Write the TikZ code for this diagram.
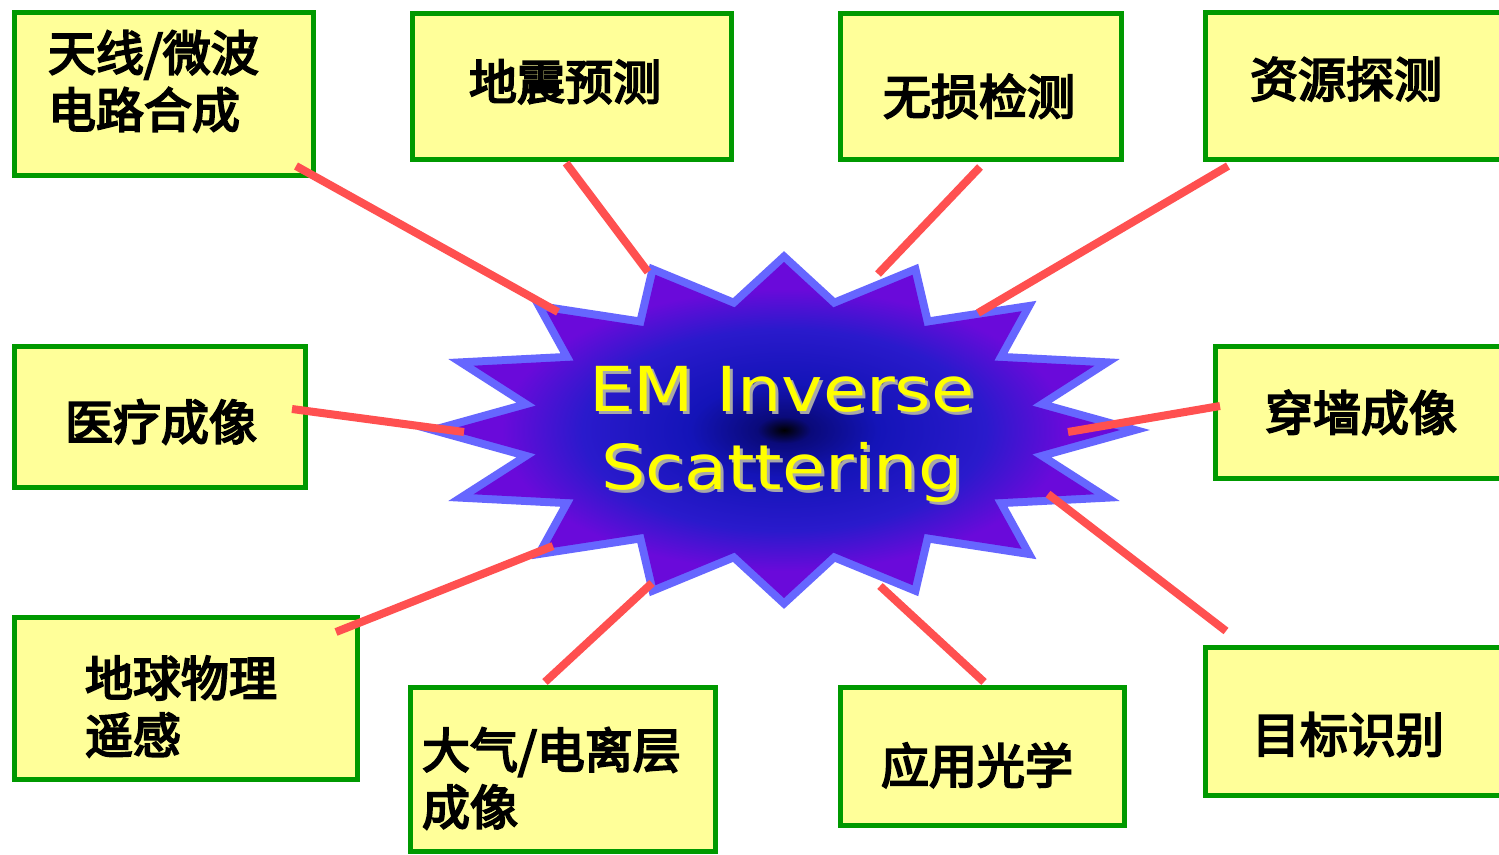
\documentclass[tikz,border=0pt]{standalone}
\usepackage{fontspec}
\usepackage{graphicx}
\newfontfamily\cjk{Noto Sans CJK SC}[FakeBold=4]
\newfontfamily\emfont{DejaVu Sans}
\definecolor{boxyellow}{HTML}{FFFF99}
\definecolor{boxgreen}{HTML}{009900}
\definecolor{linered}{HTML}{FF5050}
\definecolor{starborder}{HTML}{6666FF}
\definecolor{shA}{HTML}{000000}
\definecolor{shB}{HTML}{0A0A7A}
\definecolor{shC}{HTML}{1414B8}
\definecolor{shD}{HTML}{2A1ACC}
\definecolor{shE}{HTML}{6A0ADA}
\definecolor{emyellow}{HTML}{FFFF00}
\definecolor{emgray}{HTML}{A8A8A8}
\pgfdeclareradialshading{starshade}{\pgfpoint{0bp}{0bp}}{color(0bp)=(shA); color(2bp)=(shB); color(7bp)=(shC); color(15bp)=(shD); color(21bp)=(shE); color(50bp)=(shE)}
% vertical nudges of box text: a strut on the first line (down) or last line (up)
\newcommand{\tdn}[1]{\rule{0pt}{\dimexpr 0.88em+#1pt*2\relax}}
\newcommand{\tupp}[1]{\rule[-\dimexpr 0.12em+#1pt*2\relax]{0pt}{\dimexpr 0.12em+#1pt*2\relax}}
\begin{document}
\begin{tikzpicture}[x=1pt,y=-1pt,
  box/.style={draw=boxgreen, fill=boxyellow, line width=5pt, anchor=north west, inner sep=0pt, outer sep=0pt, align=left,
    font=\cjk\fontsize{48pt}{57pt}\selectfont},
  conn/.style={draw=linered, line width=8pt},
  emtxt/.style={font=\emfont\fontsize{62pt}{78pt}\selectfont, align=center, inner sep=0pt},
  starpath/.style={line width=16pt, draw=starborder, miter limit=10}]
\useasboundingbox[fill=white] (0,0) rectangle (1499,854);

% boxes
\node[box, minimum width=299pt, minimum height=163pt, text width=232pt] (b1) at (14.5,12.5) {天线/微波\\电路合成\tupp{12}};
\node[box, minimum width=319pt, minimum height=146pt, text width=206pt] (b2) at (412.5,13.5) {地震预测\tupp{4}};
\node[box, minimum width=281pt, minimum height=146pt, text width=196pt] (b3) at (840.5,13.5) {\tdn{9}无损检测};
\node[box, minimum width=320pt, minimum height=147pt, text width=231pt] (b4) at (1205.5,12.5) {资源探测\tupp{6}};
\node[box, minimum width=291pt, minimum height=141pt, text width=190pt] (b5) at (14.5,346.5) {\tdn{4}医疗成像};
\node[box, minimum width=320pt, minimum height=132pt, text width=221pt] (b6) at (1215.5,346.5) {穿墙成像};
\node[box, minimum width=343pt, minimum height=162pt, text width=202pt] (b7) at (14.5,617.5) {\tdn{7}地球物理\\遥感};
\node[box, minimum width=305pt, minimum height=164pt, text width=282pt] (b8) at (410.5,687.5) {\tdn{8}大气/电离层\\成像};
\node[box, minimum width=284pt, minimum height=138pt, text width=203pt] (b9) at (840.5,687.5) {\tdn{8}应用光学};
\node[box, minimum width=320pt, minimum height=148pt, text width=227pt] (b10) at (1205.5,647.5) {\tdn{12}目标识别};

% star
\begin{scope}[shift={(784,430)}]
\path[starpath] (0:336 and 168)
  \foreach \k in {0,...,14}{ -- ({\k*22.5+11.25}:253 and 125) -- ({\k*22.5+22.5}:336 and 168)}
  -- (348.75:253 and 125) -- cycle;
\shade[shading=starshade] (0:336 and 168)
  \foreach \k in {0,...,14}{ -- ({\k*22.5+11.25}:253 and 125) -- ({\k*22.5+22.5}:336 and 168)}
  -- (348.75:253 and 125) -- cycle;
\coordinate (star) at (0,0);
\end{scope}

% text
\node[emtxt, text=emgray] (emshadow) at (785,437) {\scalebox{1.13}[1]{EM Inverse}\\\scalebox{1.13}[1]{Scattering}};
\node[emtxt, text=emyellow] (em) at (782,434) {\scalebox{1.13}[1]{EM Inverse}\\\scalebox{1.13}[1]{Scattering}};

% connector endpoints
\coordinate (p1) at (296,166);  \coordinate (s1) at (558,312);
\coordinate (p2) at (566,163);  \coordinate (s2) at (648,272);
\coordinate (p3) at (980,167);  \coordinate (s3) at (878,274);
\coordinate (p4) at (1228,166); \coordinate (s4) at (978,313);
\coordinate (p5) at (292,409);  \coordinate (s5) at (464,432);
\coordinate (p6) at (1220,406); \coordinate (s6) at (1068,432);
\coordinate (p7) at (336,632);  \coordinate (s7) at (553,546);
\coordinate (p8) at (545,682);  \coordinate (s8) at (652,583);
\coordinate (p9) at (984,682);  \coordinate (s9) at (880,586);
\coordinate (p10) at (1226,631); \coordinate (s10) at (1048,494);
\foreach \i in {1,...,10} \draw[conn] (p\i) -- (s\i);
\end{tikzpicture}
\end{document}
